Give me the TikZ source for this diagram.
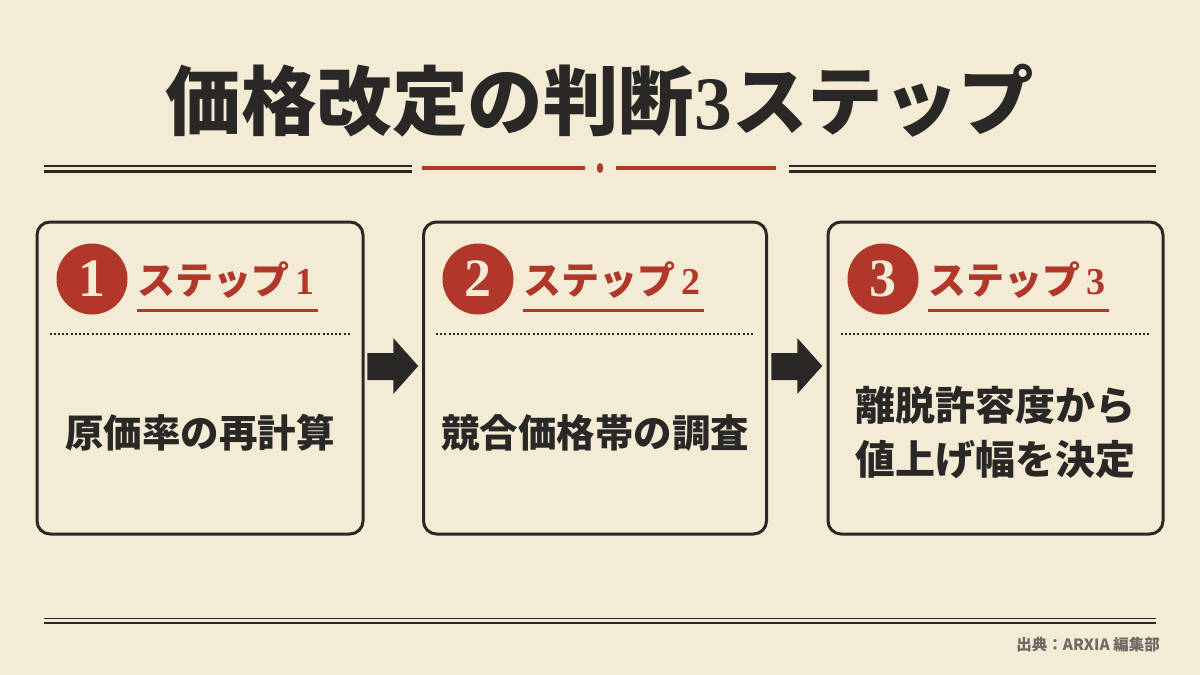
\documentclass[tikz,border=0pt]{standalone}
\usepackage{fontspec}
\newfontfamily\jp{Noto Sans CJK JP}
\newfontfamily\numfont{Liberation Serif}
\usetikzlibrary{calc}
\definecolor{bg}{HTML}{F3EBD4}
\definecolor{ink}{HTML}{2A2826}
\definecolor{accent}{HTML}{B0372A}
\definecolor{note}{HTML}{6E6A64}
\tikzset{
  stepbox/.style={draw=ink, line width=3pt, rounded corners=13pt, minimum height=312pt, inner sep=0pt},
  numdisc/.style={circle, fill=accent, minimum size=71pt, inner sep=0pt, text=bg, font=\numfont\bfseries\fontsize{54}{54}\selectfont},
  steplabel/.style={anchor=west, inner sep=0pt, text=accent, font=\jp\bfseries\fontsize{38}{40}\selectfont},
  underl/.style={draw=accent, line width=3.5pt},
  dotsep/.style={draw=ink, line width=2pt, dash pattern=on 2pt off 2.2pt},
  bodytext/.style={text=ink, font=\jp\bfseries\fontsize{38.5}{53}\selectfont, align=center, inner sep=0pt},
  bodytwo/.style={text=ink, font=\jp\bfseries\fontsize{40}{54}\selectfont, align=center, inner sep=0pt},
  arrowshape/.style={fill=ink},
}
\begin{document}
\begin{tikzpicture}[x=1pt,y=-1pt]
\fill[bg] (0,0) rectangle (1200,675);
\useasboundingbox (0,0) rectangle (1200,675);

% title
\node[text=ink, font=\jp\bfseries\fontsize{75.5}{80}\selectfont, inner sep=0pt] (title) at (600,101) {価格改定の判断{\numfont\bfseries 3}ステップ};

% divider
\draw[ink, line width=1.6pt] (44,166) -- (412,166);
\draw[ink, line width=2.4pt] (44,171.5) -- (412,171.5);
\draw[accent, line width=3.5pt] (422,168) -- (585,168);
\fill[accent] (600,168) ellipse [x radius=3.2pt, y radius=5pt];
\draw[accent, line width=3.5pt] (616,168) -- (776,168);
\draw[ink, line width=1.6pt] (789,166) -- (1156,166);
\draw[ink, line width=2.4pt] (789,171.5) -- (1156,171.5);

% boxes
\node[stepbox, minimum width=326pt] (b1) at (200,378) {};
\node[stepbox, minimum width=343pt] (b2) at (595,378) {};
\node[stepbox, minimum width=335pt] (b3) at (995.5,378) {};

% headers
\foreach \b/\n/\cx in {b1/1/92, b2/2/478, b3/3/883}{
  \node[numdisc] (c\n) at (\cx,279) {\n};
  \node[steplabel] (l\n) at ($(c\n.center)+(45,1)$) {ステップ{\numfont\bfseries\,\n}};
  \draw[underl] ($(l\n.south west)+(0,12)$) -- ($(l\n.south east)+(3,12)$);
  \draw[dotsep] ($(\b.west)+(14,-44)$) -- ($(\b.east)+(-14,-44)$);
}

% body texts
\node[bodytext] (t1) at (200,433) {原価率の再計算};
\node[bodytext] (t2) at (595,433) {競合価格帯の調査};
\node[bodytwo] (t3) at (995.5,432) {離脱許容度から\\値上げ幅を決定};

% arrows
\foreach \a/\z in {b1/b2, b2/b3}{
  \coordinate (m) at ($(\a.east)!0.5!(\z.west)+(0,-12)$);
  \fill[arrowshape] ($(m)+(-26,-13)$) -- ($(m)+(0,-13)$) -- ($(m)+(0,-28)$) -- ($(m)+(25,0)$)
     -- ($(m)+(0,28)$) -- ($(m)+(0,14)$) -- ($(m)+(-26,14)$) -- cycle;
}

% footer
\draw[ink, line width=1.8pt] (44,618.5) -- (1156,618.5);
\draw[ink, line width=1.8pt] (44,623) -- (1156,623);
\node[anchor=east, text=note, font=\jp\bfseries\fontsize{15.5}{16}\selectfont, inner sep=0pt] (src) at (1160,645) {出典：ARXIA 編集部};
\end{tikzpicture}
\end{document}
